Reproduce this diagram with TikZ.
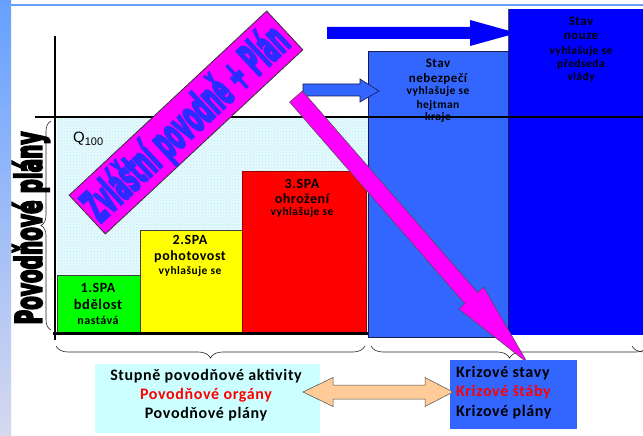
\documentclass[tikz,border=0pt]{standalone}
\usepackage{fontspec}
\setmainfont{Carlito}
\newfontfamily\calf[LetterSpace=4]{Carlito}
\newfontfamily\arialf{Liberation Sans}
\newfontfamily\condf{DejaVu Sans Condensed}[BoldFeatures={FakeBold=6}]
\usetikzlibrary{patterns,decorations.pathreplacing,calc}

\definecolor{stripTop}{HTML}{66A0FF}
\definecolor{stripBot}{HTML}{D6D9EE}
\definecolor{lvGreen}{HTML}{00FF00}
\definecolor{lvYellow}{HTML}{FFFF00}
\definecolor{lvRed}{HTML}{FF0000}
\definecolor{nebBlue}{HTML}{3366FF}
\definecolor{nouzeBlue}{HTML}{0000FF}
\definecolor{magentaPink}{HTML}{FF00FF}
\definecolor{peach}{HTML}{FFCC99}
\definecolor{paleCyan}{HTML}{CCFFFF}
\definecolor{bannerText}{HTML}{2B2BFF}
\definecolor{dotCyan}{HTML}{9FF3F3}
\definecolor{navyEdge}{HTML}{1A1A4D}

\tikzset{
  levelbox/.style={draw=black!75, line width=0.5pt},
  boxtext/.style={anchor=base, inner sep=0pt, font=\calf\bfseries},
  bigtext/.style={inner sep=0pt, font=\calf\bfseries\fontsize{16}{16}\selectfont},
  curly/.style={decorate, line width=0.6pt, black!85},
}

\begin{document}
\begin{tikzpicture}[x=1pt,y=-1pt]
\useasboundingbox (0,0) rectangle (643,436);
\fill[white] (0,0) rectangle (643,436);

% frame: gradient strip on the left and a thin rule at the top
\shade[top color=stripTop, bottom color=stripBot] (0,0) rectangle (11,436);
\draw[stripTop, line width=2pt] (11,5) -- (643,5);

% dotted area below the Q100 level
\fill[cyan!8] (57,118) rectangle (368,333);
\fill[pattern=crosshatch dots, pattern color=dotCyan] (57,118) rectangle (368,333);

% flood activity levels
\filldraw[levelbox, fill=lvGreen] (57,275) rectangle (140,333);
\filldraw[levelbox, fill=lvYellow] (140,230) rectangle (242,333);
\filldraw[levelbox, fill=lvRed, draw=lvRed!60!black] (242,171) rectangle (366,332);
% crisis states
\fill[nouzeBlue] (508,9) rectangle (650,335);
\filldraw[levelbox, fill=nebBlue, draw=navyEdge, line width=0.8pt] (368,51) rectangle (508,337);
\draw[black!70, line width=0.6pt] (508,9) -- (508,51);

% axes and the Q100 line
\coordinate (qL) at (35,117);
\coordinate (qR) at (643,117);
\coordinate (yTop) at (55,36);
\coordinate (yBot) at (55,340);
\coordinate (xL) at (53,333);
\coordinate (xR) at (368,333);
\draw[line width=2pt] (qL) -- (qR);
\draw[line width=2pt] (yTop) -- (yBot);
\draw[line width=3pt] (xL) -- (xR);

% braces
\draw[curly, decoration={brace, amplitude=10pt}] (51,330) -- (51,121);
\draw[curly, decoration={brace, mirror, amplitude=12pt}] (56,346) -- (365,346);
\draw[curly, decoration={brace, mirror, amplitude=12pt}] (371,346) -- (648,346);
\begin{scope}
  \clip (0,0) rectangle (643,436);
  \draw[curly, decoration={brace, mirror, amplitude=12pt}] (632,346) -- (900,346);
\end{scope}

% texts of the levels
\node[boxtext, font=\calf\bfseries\fontsize{14}{14}\selectfont] (s1a) at (98,292) {1.SPA};
\node[boxtext, font=\calf\bfseries\fontsize{14.5}{14}\selectfont] (s1b) at (98,309) {bdělost};
\node[boxtext, font=\calf\bfseries\fontsize{12}{12}\selectfont] (s1c) at (98,324) {nastává};

\node[boxtext, font=\calf\bfseries\fontsize{14}{14}\selectfont] (s2a) at (190,244) {2.SPA};
\node[boxtext, font=\calf\bfseries\fontsize{14}{14}\selectfont] (s2b) at (190,260) {pohotovost};
\node[boxtext, font=\calf\bfseries\fontsize{11.5}{12}\selectfont] (s2c) at (190,274) {vyhlašuje se};

\node[boxtext, font=\calf\bfseries\fontsize{14}{14}\selectfont] (s3a) at (302,188) {3.SPA};
\node[boxtext, font=\calf\bfseries\fontsize{14}{14}\selectfont] (s3b) at (302,203) {ohrožení};
\node[boxtext, font=\calf\bfseries\fontsize{11.5}{12}\selectfont] (s3c) at (302,215) {vyhlašuje se};

\node[boxtext, font=\calf\bfseries\fontsize{13}{13}\selectfont] (n1) at (438,67) {Stav};
\node[boxtext, font=\calf\bfseries\fontsize{13}{13}\selectfont] (n2) at (438,83) {nebezpečí};
\node[boxtext, font=\calf\bfseries\fontsize{11.5}{12}\selectfont] (n3) at (438,95) {vyhlašuje se};
\node[boxtext, font=\calf\bfseries\fontsize{11.5}{12}\selectfont] (n4) at (438,109) {hejtman};
\node[boxtext, font=\calf\bfseries\fontsize{11.5}{12}\selectfont] (n5) at (438,121) {kraje};

\node[boxtext, font=\calf\bfseries\fontsize{13}{13}\selectfont] (u1) at (581,26) {Stav};
\node[boxtext, font=\calf\bfseries\fontsize{13}{13}\selectfont] (u2) at (581,40) {nouze};
\node[boxtext, font=\calf\bfseries\fontsize{11.5}{12}\selectfont] (u3) at (581,55) {vyhlašuje se};
\node[boxtext, font=\calf\bfseries\fontsize{11.5}{12}\selectfont] (u4) at (581,68) {předseda};
\node[boxtext, font=\calf\bfseries\fontsize{11.5}{12}\selectfont] (u5) at (581,81) {vlády};

% Q100 label
\node[anchor=base west, inner sep=0pt, font=\arialf\fontsize{15}{15}\selectfont] (q100) at (73,142)
  {Q\raisebox{-3.5pt}{\fontsize{11}{11}\selectfont 100}};

% vertical axis title
\node[rotate=90, inner sep=0pt] (ytitle) at (31,228)
  {\resizebox{193pt}{29pt}{\condf\bfseries Povodňové plány}};

% diagonal banner
\node[draw=black!80, line width=0.8pt, fill=magentaPink, rotate=43, minimum width=270pt,
      minimum height=53pt, inner sep=0pt] (banner) at (186,122.5) {};
\node[rotate=43, inner sep=0pt, text=bannerText] (bannertext) at ($(banner.center)+(1,2)$)
  {\resizebox{262pt}{36pt}{\condf\bfseries Zvláštní povodně + Plán}};

% top wide arrow towards the state of emergency
\coordinate (taS) at (327,33);
\coordinate (taE) at (517,33);
\fill[nouzeBlue] (taS) ++(0,-6) -- ++(143,0) -- ++(0,-7) -- (taE) -- ++(-47,13) -- ++(0,-7) -- ++(-143,0) -- cycle;

% small arrow towards the state of danger
\coordinate (saS) at (303,90);
\coordinate (saE) at (379,91);
\filldraw[fill=nebBlue, draw=navyEdge, line width=0.6pt]
  (saS) ++(0,-6) -- ++(57,0) -- ++(0,-5) -- (saE) -- ++(-19,11) -- ++(0,-6) -- ++(-57,0) -- cycle;

% long pink arrow down to the crisis box
\coordinate (maS) at (296,96.5);
\coordinate (maE) at (528,363);
\begin{scope}[shift={(maS)}, rotate=-49]
  \filldraw[fill=magentaPink, draw=black!70, line width=0.5pt]
    (0,-8.5) -- (267,-8.5) -- (267,-16.5) -- (353,0) -- (267,16.5) -- (267,8.5) -- (0,8.5) -- cycle;
\end{scope}

% bottom summary boxes
\node[anchor=north west, inner sep=0pt, fill=paleCyan, minimum width=225pt, minimum height=69pt] (flood) at (95,364) {};
\node[anchor=north west, inner sep=0pt, fill=nebBlue, minimum width=127pt, minimum height=69pt] (crisis) at (450,360) {};
\node[bigtext, anchor=base] (f1) at (206,380) {Stupně povodňové aktivity};
\node[bigtext, anchor=base, text=lvRed] (f2) at (206,399) {Povodňové orgány};
\node[bigtext, anchor=base] (f3) at (206,418) {Povodňové plány};

% double arrow linking both boxes
\coordinate (daL) at (303,392);
\coordinate (daR) at (453,392);
\filldraw[fill=peach, draw=black!70, line width=0.5pt]
  (daL) -- ++(30,-14.5) -- ++(0,7.5) -- ++(92,0) -- ++(0,-7.5) -- (daR)
  -- ++(-28,14.5) -- ++(0,-7.5) -- ++(-92,0) -- ++(0,7.5) -- cycle;

\node[bigtext, anchor=base west] (k1) at (456,377) {Krizové stavy};
\node[bigtext, anchor=base west, text=lvRed] (k2) at (456,396) {Krizové štáby};
\node[bigtext, anchor=base west] (k3) at (456,416) {Krizové plány};
\end{tikzpicture}
\end{document}
